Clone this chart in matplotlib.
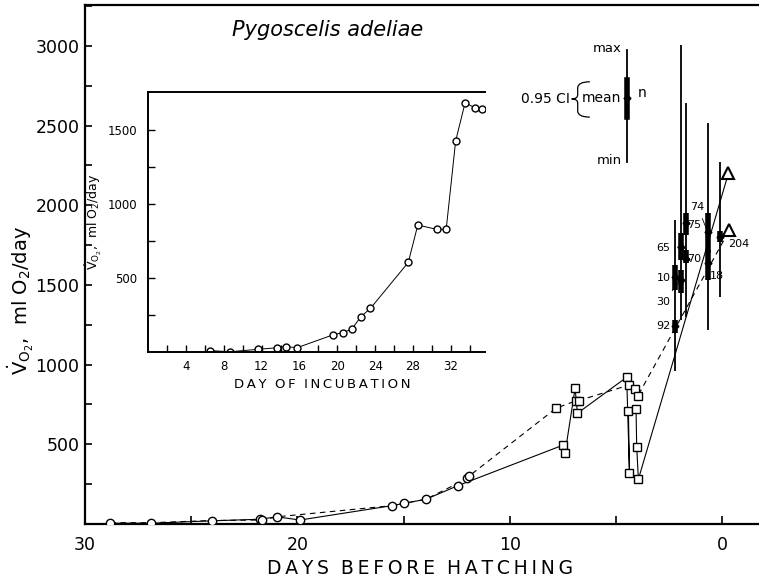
import matplotlib
matplotlib.use('Agg')
import matplotlib.pyplot as plt
from matplotlib.path import Path
from matplotlib.patches import PathPatch
from matplotlib.ticker import MultipleLocator, FixedLocator

plt.rcParams['font.family'] = ['DejaVu Sans']
plt.rcParams['mathtext.fontset'] = 'dejavusans'

# main panel: days before hatching vs VO2 (ml O2/day)
solid_days = [28.8, 26.9, 24.0, 21.75, 20.97, 19.87, 15.55, 14.96, 13.95, 12.45,
              7.47, 7.39, 6.92, 6.81, 4.49, 4.36, 4.41, 4.05, 4.02, 3.94, -0.3]
solid_vals = [5, 5, 20, 30, 45, 25, 115, 130, 155, 240,
              496, 448, 852, 695, 921, 318, 711, 720, 485, 281, 2200]

dashed_days = [28.8, 26.9, 24.0, 21.65, 20.97, 15.55, 14.96, 13.95, 11.99, 11.9,
               7.82, 6.87, 6.76, 4.36, 4.09, 3.97, -0.35]
dashed_vals = [8, 8, 22, 25, 45, 115, 130, 155, 286, 302,
               726, 774, 774, 873, 845, 803, 1845]

circle_days = [28.8, 26.9, 24.0, 21.75, 21.65, 20.97, 19.87, 15.55, 14.96, 13.95, 12.45, 11.99, 11.9]
circle_vals = [5, 5, 20, 30, 25, 45, 25, 115, 130, 155, 240, 286, 302]

square_days = [7.82, 7.47, 7.39, 6.92, 6.87, 6.76, 6.81, 4.49, 4.36, 4.09, 3.97, 4.41, 4.05, 4.36, 4.02, 3.94]
square_vals = [726, 496, 448, 852, 774, 774, 695, 921, 873, 845, 803, 711, 720, 318, 485, 281]

triangle_days = [-0.3, -0.35]
triangle_vals = [2200, 1845]

# range bars (max / min)
range_days = [2.22, 1.95, 1.70, 0.67, 0.09]
range_max = [1908, 3007, 2643, 2517, 2272]
range_min = [960, 1281, 1300, 1218, 1425]

# 0.95 CI segments with mean and n
ci_days = [2.22, 2.22, 1.95, 1.95, 1.70, 1.70, 0.67, 0.67, 0.09]
ci_lo = [1469, 1199, 1657, 1450, 1815, 1639, 1700, 1532, 1770]
ci_hi = [1626, 1281, 1826, 1594, 1953, 1720, 1952, 1720, 1840]
ci_mean = [1550, 1243, 1739, 1532, 1890, 1663, 1830, 1640, 1802]
ci_n = ['10', '92', '65', '30', '75', '70', '74', '18', '204']
n_text_day = [2.75, 2.75, 2.75, 2.75, 1.33, 1.33, 1.15, 0.25, -0.8]
n_text_val = [1544, 1243, 1733, 1394, 1877, 1663, 1990, 1557, 1758]

# inset: day of incubation
inc_days = [6.6, 8.7, 11.6, 13.65, 14.6, 15.75, 19.5, 20.55, 21.5, 22.5, 23.5,
            27.5, 28.5, 30.5, 31.5, 32.5, 33.5, 34.5, 35.3]
inc_vals = [9, 2, 18, 29, 36, 29, 115, 131, 153, 239, 295,
            606, 858, 829, 829, 1426, 1685, 1651, 1640]

vo2_label = r'$\dot{\mathrm{V}}_{\mathrm{O}_2}$,  ml O$_2$/day'


def spaced(txt):
    # wide letter spacing like the original lettering
    return '  '.join('\u2009'.join(w) for w in txt.split())


fig = plt.figure(figsize=(7.59, 5.83), dpi=100)
ax = fig.add_axes([85 / 759, 59 / 583, 674 / 759, 519 / 583])

ax.plot(solid_days, solid_vals, color='black', lw=0.8, zorder=2)
ax.plot(dashed_days, dashed_vals, color='black', lw=0.8, ls=(0, (5, 4)), zorder=2)
ax.plot(circle_days, circle_vals, 'o', ms=6, mfc='white', mec='black', mew=1.0, zorder=3)
ax.plot(square_days, square_vals, 's', ms=6, mfc='white', mec='black', mew=1.0, zorder=3)
ax.plot(triangle_days, triangle_vals, '^', ms=9, mfc='white', mec='black', mew=1.5, zorder=3)

ax.vlines(range_days, range_min, range_max, color='black', lw=1.3, zorder=4)
ax.vlines(ci_days, ci_lo, ci_hi, color='black', lw=4, zorder=4)
ax.plot(ci_days, ci_mean, 'D', ms=3.5, color='black', zorder=5)
for d, m, t, td, tv in zip(ci_days, ci_mean, ci_n, n_text_day, n_text_val):
    ax.annotate(t, xy=(d, m), xytext=(td, tv), fontsize=8, ha='center', va='center',
                arrowprops=dict(arrowstyle='-', lw=0.6, color='black', shrinkA=3, shrinkB=0))

ax.set_xlim(30, -1.74)
ax.set_ylim(0, 3257)
ax.xaxis.set_major_locator(FixedLocator([30, 20, 10, 0]))
ax.xaxis.set_minor_locator(FixedLocator([25, 15, 5]))
ax.yaxis.set_major_locator(FixedLocator([500, 1000, 1500, 2000, 2500, 3000]))
ax.yaxis.set_minor_locator(MultipleLocator(250))
ax.tick_params(axis='both', which='both', direction='in', width=1.2, labelsize=12.5)
ax.tick_params(axis='x', which='both', length=6, pad=9)
ax.tick_params(axis='y', which='major', length=5, pad=4)
ax.tick_params(axis='y', which='minor', length=5)
ax.spines['right'].set_visible(False)
for s in ['left', 'bottom', 'top']:
    ax.spines[s].set_linewidth(1.6)

ax.set_xlabel(spaced('DAYS BEFORE HATCHING'), fontsize=13.5)
ax.xaxis.set_label_coords(0.497, -0.068)
ax.set_ylabel(vo2_label, fontsize=14)
ax.yaxis.set_label_coords(-0.072, 0.43)

ax.text(0.218, 0.952, 'Pygoscelis adeliae', transform=ax.transAxes, fontsize=15,
        style='italic', ha='left', va='center')

# key for the range bars
kx = 0.804
ax.plot([kx, kx], [0.697, 0.913], transform=ax.transAxes, color='black', lw=1.3)
ax.plot([kx, kx], [0.784, 0.855], transform=ax.transAxes, color='black', lw=4)
ax.plot([kx], [0.821], 'D', ms=3.5, color='black', transform=ax.transAxes)
ax.text(kx - 0.008, 0.917, 'max', transform=ax.transAxes, ha='right', va='center', fontsize=9.5)
ax.text(kx - 0.008, 0.821, 'mean', transform=ax.transAxes, ha='right', va='center', fontsize=10)
ax.text(kx - 0.008, 0.701, 'min', transform=ax.transAxes, ha='right', va='center', fontsize=9.5)
ax.text(kx + 0.016, 0.83, 'n', transform=ax.transAxes, ha='left', va='center', fontsize=10)
ax.text(0.719, 0.818, '0.95 CI', transform=ax.transAxes, ha='right', va='center', fontsize=10)
xr, xm, xl = 0.749, 0.731, 0.722
yt, ym, yb = 0.852, 0.819, 0.784
brace = Path([(xr, yt), (xm, yt), (xm, yt - 0.012), (xm, ym + 0.008), (xm, ym), (xl, ym),
              (xm, ym), (xm, ym - 0.008), (xm, yb + 0.012), (xm, yb), (xr, yb)],
             [Path.MOVETO, Path.CURVE3, Path.CURVE3, Path.LINETO, Path.CURVE3, Path.CURVE3,
              Path.CURVE3, Path.CURVE3, Path.LINETO, Path.CURVE3, Path.CURVE3])
ax.add_patch(PathPatch(brace, fill=False, lw=0.9, transform=ax.transAxes))

# inset
ins = fig.add_axes([148 / 759, 231 / 583, 337 / 759, 260 / 583])
ins.plot(inc_days, inc_vals, '-o', color='black', lw=0.7, ms=5, mfc='white', mec='black', mew=1.0)
ins.set_xlim(0, 35.6)
ins.set_ylim(0, 1757)
ins.xaxis.set_major_locator(FixedLocator([4, 8, 12, 16, 20, 24, 28, 32]))
ins.xaxis.set_minor_locator(FixedLocator([2, 6, 10, 14, 18, 22, 26, 30, 34]))
ins.yaxis.set_major_locator(FixedLocator([500, 1000, 1500]))
ins.yaxis.set_minor_locator(FixedLocator([250, 750, 1250]))
ins.tick_params(axis='both', which='both', direction='in', length=5, width=1.0, labelsize=8.5)
ins.tick_params(axis='x', which='both', pad=6)
ins.tick_params(axis='y', which='both', pad=8)
ins.spines['right'].set_visible(False)
for s in ['left', 'bottom', 'top']:
    ins.spines[s].set_linewidth(1.4)
ins.set_xlabel(spaced('DAY OF INCUBATION'), fontsize=9.5)
ins.xaxis.set_label_coords(0.516, -0.1)
ins.set_ylabel(vo2_label, fontsize=9)
ins.yaxis.set_label_coords(-0.13, 0.5)

fig.savefig('out.png', dpi=100)
